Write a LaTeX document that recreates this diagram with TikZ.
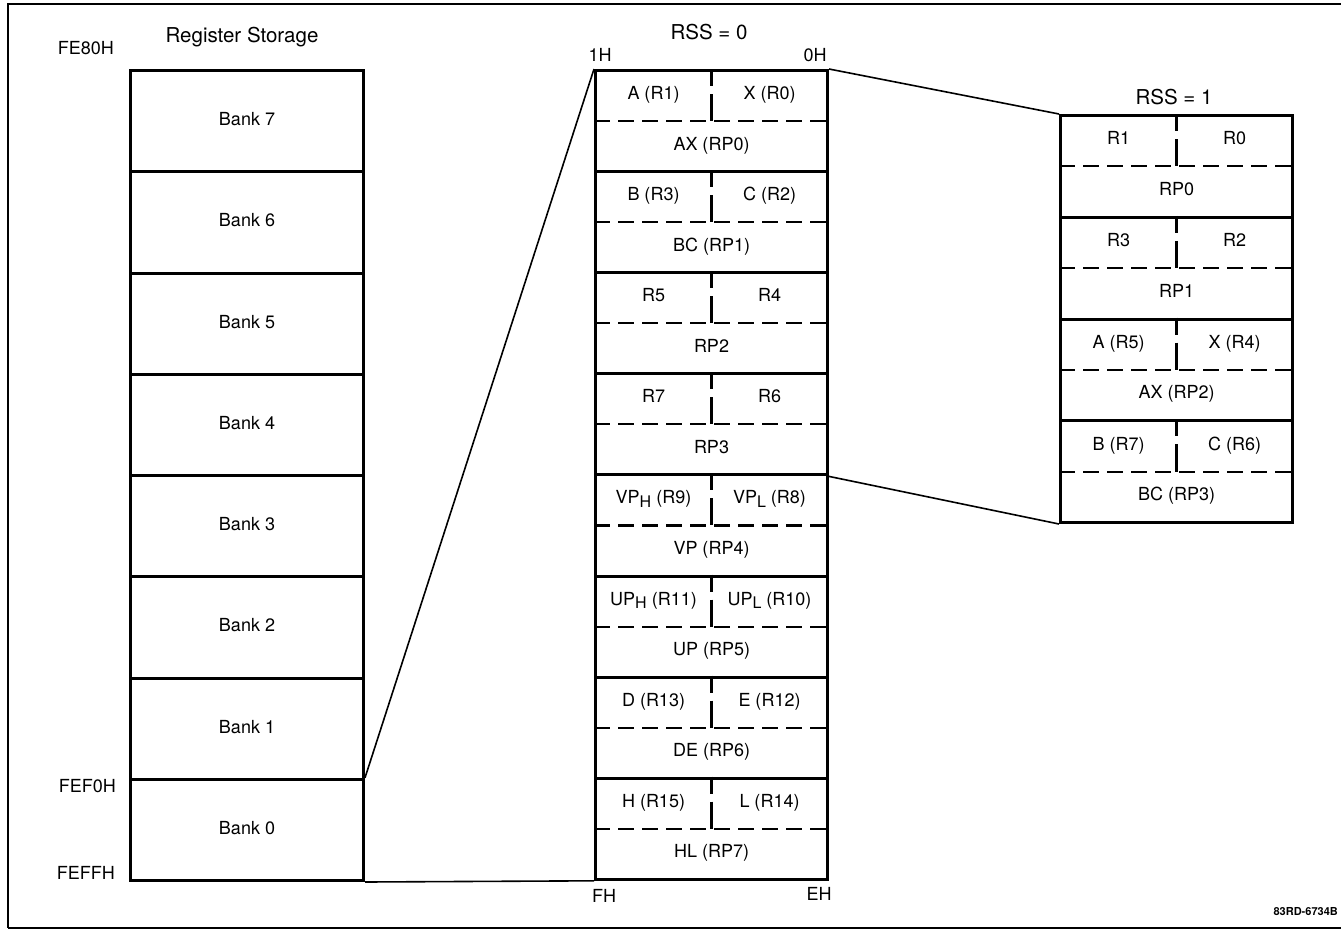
\documentclass[tikz,border=0pt]{standalone}
\usepackage{fontspec}
\setmainfont{TeX Gyre Heros}
\usetikzlibrary{calc}
\newcommand\lowsub[1]{\raisebox{-0.4ex}{\fontsize{16}{16}\selectfont #1}}
\begin{document}
\begin{tikzpicture}[x=1pt,y=-1pt,
  box/.style={draw, line width=3pt, minimum width=233pt, minimum height=101.2pt, anchor=north west, inner sep=0pt, font=\fontsize{18}{20}\selectfont},
  bankbox/.style={box, text height=9pt, text depth=0pt},
  lbl/.style={font=\fontsize{18}{20}\selectfont, inner sep=0pt, text height=12.9pt, text depth=0pt},
  title/.style={font=\fontsize{20.5}{22}\selectfont, inner sep=0pt, text height=14.7pt, text depth=0pt},
  dsh/.style={line width=2.1pt, dash pattern=on 16pt off 8pt},
  vdsh/.style={line width=2.1pt, dash pattern=on 17pt off 8pt on 40pt off 1pt},
  conn/.style={line width=1.6pt},
  frame/.style={line width=2.2pt}]
\useasboundingbox (0,0) rectangle (1341,930);
% frame
\coordinate (ftl) at (8,4);
\coordinate (ftr) at (1341,4);
\coordinate (fbl) at (8,928);
\coordinate (fbr) at (1341,928);
\draw[frame] (ftr) -- (ftl) -- (fbl);
\draw[frame] (fbl) -- (fbr);
% titles
\node[title] (tRS) at (242,35) {Register Storage};
\node[title] (tR0) at (709,32) {RSS = 0};
\node[title] (tR1) at (1174,97) {RSS = 1};
% left column: banks
\foreach \i/\t in {0/7,1/6,2/5,3/4,4/3,5/2,6/1,7/0}
  \node[bankbox, minimum width=233pt, minimum height=101.25pt] (bank\t) at (129,{69+101.25*\i}) {Bank \t};
\node[lbl, anchor=east] (aFE80) at (114,48) {FE80H};
\node[lbl, anchor=east] (aFEF0) at (116,786) {FEF0H};
\node[lbl, anchor=east] (aFEFF) at (115,873) {FEFFH};
% middle column
\foreach \i/\a/\b/\c in {0/A (R1)/X (R0)/AX (RP0),
                         1/B (R3)/C (R2)/BC (RP1),
                         2/R5/R4/RP2,
                         3/R7/R6/RP3,
                         4/VP\lowsub{H} (R9)/VP\lowsub{L} (R8)/VP (RP4),
                         5/UP\lowsub{H} (R11)/UP\lowsub{L} (R10)/UP (RP5),
                         6/D (R13)/E (R12)/DE (RP6),
                         7/H (R15)/L (R14)/HL (RP7)}{
  \node[box, minimum width=232pt, minimum height=101.1pt] (g\i) at (594,{69+101.1*\i}) {};
  \draw[dsh] (g\i.west) -- (g\i.east);
  \draw[vdsh] (g\i.north) -- (g\i.center);
  \node[lbl] (g\i a) at ($(g\i.center)+(-58,-28)$) {\a};
  \node[lbl] (g\i b) at ($(g\i.center)+(58,-28)$) {\b};
  \node[lbl] (g\i c) at ($(g\i.center)+(0,22.5)$) {\c};
}
\node[lbl, anchor=center] (l1H) at (600,55) {1H};
\node[lbl, anchor=center] (l0H) at (815,55) {0H};
\node[lbl, anchor=center] (lFH) at (604,896) {FH};
\node[lbl, anchor=center] (lEH) at (819,894) {EH};
% right column
\foreach \i/\a/\b/\c in {0/R1/R0/RP0,
                         1/R3/R2/RP1,
                         2/A (R5)/X (R4)/AX (RP2),
                         3/B (R7)/C (R6)/BC (RP3)}{
  \node[box, minimum width=232pt, minimum height=101.75pt] (r\i) at (1059,{114+101.75*\i}) {};
  \draw[dsh] (r\i.west) -- (r\i.east);
  \draw[vdsh] (r\i.north) -- (r\i.center);
  \node[lbl] (r\i a) at ($(r\i.center)+(-58,-28)$) {\a};
  \node[lbl] (r\i b) at ($(r\i.center)+(58,-28)$) {\b};
  \node[lbl] (r\i c) at ($(r\i.center)+(0,22.5)$) {\c};
}
% connectors
\draw[conn] (bank0.north east) -- (g0.north west);
\draw[conn] (bank0.south east) -- (g7.south west);
\draw[conn] (g0.north east) -- (r0.north west);
\draw[conn] (g3.south east) -- (r3.south west);
% figure id
\node[font=\bfseries\fontsize{11}{12}\selectfont, inner sep=0pt, anchor=east] (fid) at (1338,912) {83RD-6734B};
\end{tikzpicture}
\end{document}
